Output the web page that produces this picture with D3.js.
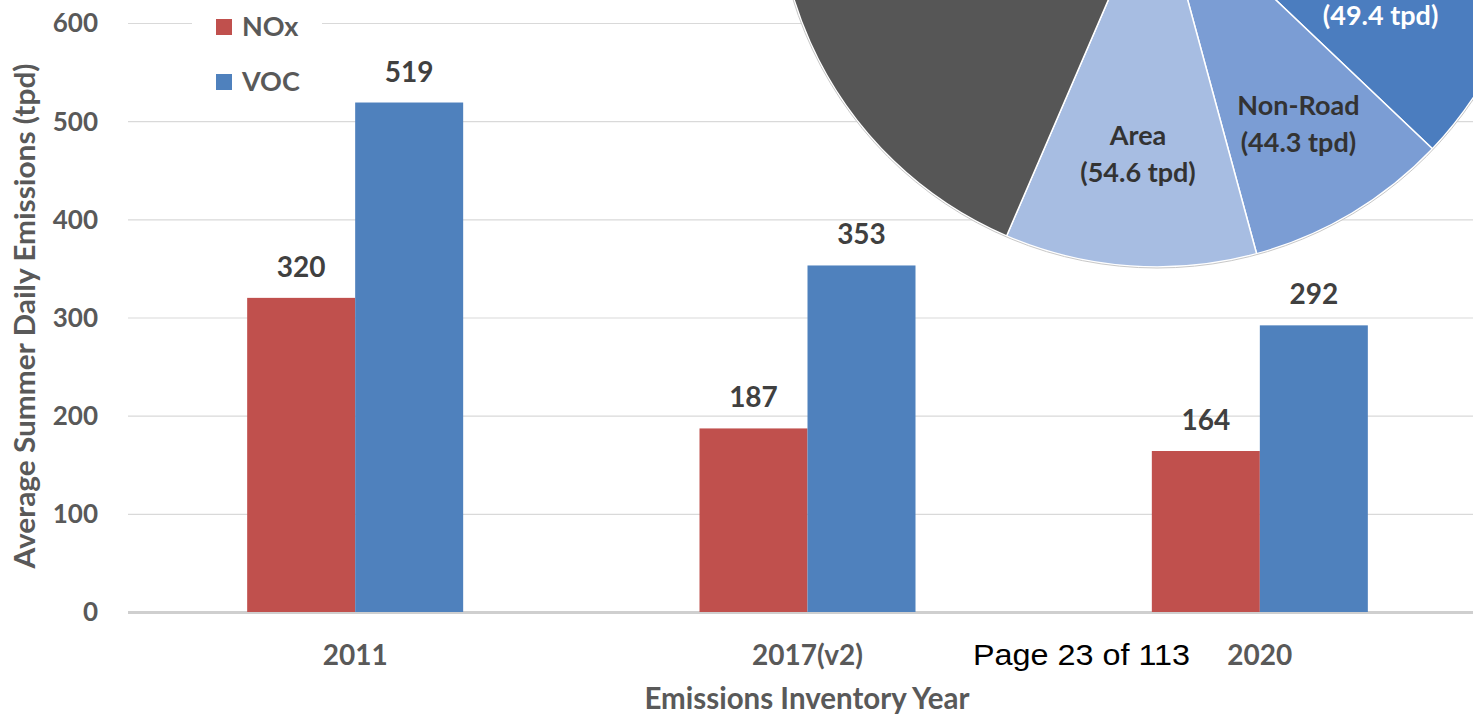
<!DOCTYPE html>
<html>
<head>
<meta charset="utf-8">
<script src="https://cdn.jsdelivr.net/npm/d3@7"></script>
<style>
  html, body { margin: 0; padding: 0; background: #fff; overflow: hidden; }
  svg { display: block; }
  text { font-family: Lato, "Open Sans", sans-serif; font-weight: bold; }
</style>
</head>
<body>
<script>
// bar chart data
var years = ["2011", "2017(v2)", "2020"];
var pollutants = ["NOx", "VOC"];
var noxValues = [320, 187, 164];
var vocValues = [519, 353, 292];
var yTicks = [0, 100, 200, 300, 400, 500, 600];

// inset pie data (only the lower part shows on the page)
var pieNames = ["", "Non-Road", "Area", ""];
var pieValues = [49.4, 44.3, 54.6, 362];
var pieColors = ["#4b7dbf", "#7b9dd4", "#a7bde2", "#565656"];

const width = 1473, height = 714;
const barColors = {"NOx": "#c0504d", "VOC": "#4f81bd"};

var svg = d3.select("body")
    .append("svg")
    .attr("width", width)
    .attr("height", height);

var y = d3.scaleLinear()
    .domain([0, 600])
    .range([612, 23]);

var x = d3.scaleBand()
    .domain(years)
    .range([129, 1486]);

var xSub = d3.scaleBand()
    .domain(pollutants)
    .range([x.bandwidth() / 2 - 108, x.bandwidth() / 2 + 108]);

//gridlines
svg.append("g")
    .selectAll("line")
    .data(yTicks)
    .enter()
    .append("line")
    .attr("x1", 128)
    .attr("x2", width)
    .attr("y1", function (d) { return y(d) + 0.5; })
    .attr("y2", function (d) { return y(d) + 0.5; })
    .style("stroke", function (d) { return d == 0 ? "#cfcfcf" : "#d9d9d9"; })
    .style("stroke-width", function (d) { return d == 0 ? 3 : 1.2; });

//tick labels
svg.append("g")
    .selectAll("text")
    .data(yTicks)
    .enter()
    .append("text")
    .attr("x", 98)
    .attr("y", function (d) { return y(d); })
    .attr("dy", "0.36em")
    .attr("text-anchor", "end")
    .style("font-size", "26px")
    .style("fill", "#595959")
    .text(function (d) { return d; });

//bars
var rows = years.map(function (yr, i) {
    return {year: yr, values: [
        {key: "NOx", value: noxValues[i]},
        {key: "VOC", value: vocValues[i]}
    ]};
});

var groups = svg.append("g")
    .selectAll("g")
    .data(rows)
    .enter()
    .append("g")
    .attr("transform", function (d) { return "translate(" + x(d.year) + ",0)"; });

groups.selectAll("rect")
    .data(function (d) { return d.values; })
    .enter()
    .append("rect")
    .attr("x", function (d) { return xSub(d.key); })
    .attr("y", function (d) { return y(d.value); })
    .attr("width", xSub.bandwidth())
    .attr("height", function (d) { return y(0) - y(d.value); })
    .style("fill", function (d) { return barColors[d.key]; });

groups.selectAll(".val")
    .data(function (d) { return d.values; })
    .enter()
    .append("text")
    .attr("class", "val")
    .attr("x", function (d) { return xSub(d.key) + xSub.bandwidth() / 2; })
    .attr("y", function (d) { return y(d.value) - 21; })
    .attr("text-anchor", "middle")
    .style("font-size", "28px")
    .style("fill", "#404040")
    .text(function (d) { return d.value; });

//x labels
svg.append("g")
    .selectAll("text")
    .data(years)
    .enter()
    .append("text")
    .attr("x", function (d) { return x(d) + x.bandwidth() / 2; })
    .attr("y", 665)
    .attr("text-anchor", "middle")
    .style("font-size", "28px")
    .style("fill", "#595959")
    .text(function (d) { return d; });

//axis titles
svg.append("text")
    .attr("x", 807)
    .attr("y", 709)
    .attr("text-anchor", "middle")
    .style("font-size", "29.5px")
    .style("fill", "#595959")
    .text("Emissions Inventory Year");

svg.append("text")
    .attr("transform", "translate(35,316) rotate(-90)")
    .attr("text-anchor", "middle")
    .attr("textLength", 505)
    .attr("lengthAdjust", "spacingAndGlyphs")
    .style("font-size", "28px")
    .style("fill", "#595959")
    .text("Average Summer Daily Emissions (tpd)");

//legend (white box hides the gridline)
var legend = svg.append("g");
legend.append("rect")
    .attr("x", 192)
    .attr("y", 0)
    .attr("width", 130)
    .attr("height", 100)
    .style("fill", "#fff");

var legendItems = legend.selectAll(".leg")
    .data(pollutants)
    .enter()
    .append("g")
    .attr("class", "leg")
    .attr("transform", function (d, i) { return "translate(216," + (19 + i * 55) + ")"; });

legendItems.append("rect")
    .attr("width", 16)
    .attr("height", 16)
    .style("fill", function (d) { return barColors[d]; });

legendItems.append("text")
    .attr("x", 26)
    .attr("y", 17)
    .style("font-size", "27px")
    .style("fill", "#595959")
    .text(function (d) { return d; });

//pie inset
var pieCx = 1157, pieCy = -113, pieR = 380;
var a0 = 98.7 * Math.PI / 180;
var labelRadius = [249, 276, 268];

var pie = d3.pie()
    .sort(null)
    .startAngle(a0)
    .endAngle(a0 + 2 * Math.PI);

var arc = d3.arc().innerRadius(0).outerRadius(pieR);

var pieG = svg.append("g")
    .attr("transform", "translate(" + pieCx + "," + pieCy + ")");

var slices = pie(pieValues);

pieG.selectAll("path")
    .data(slices)
    .enter()
    .append("path")
    .attr("d", arc)
    .style("fill", function (d, i) { return pieColors[i]; })
    .style("stroke", "#fff")
    .style("stroke-width", 1.5);

pieG.append("circle")
    .attr("r", pieR + 1)
    .style("fill", "none")
    .style("stroke", "#c8c8c8")
    .style("stroke-width", 1);

var sliceLabels = pieG.selectAll(".plabel")
    .data(slices.slice(0, 3))
    .enter()
    .append("text")
    .attr("class", "plabel")
    .attr("transform", function (d, i) {
        var r = labelRadius[i];
        return "translate(" + d3.arc().innerRadius(r).outerRadius(r).centroid(d) + ")";
    })
    .attr("text-anchor", "middle")
    .style("font-size", "27px")
    .style("fill", function (d, i) { return i == 0 ? "#fff" : "#333"; });

sliceLabels.append("tspan")
    .attr("x", 0)
    .attr("y", -9)
    .text(function (d, i) { return pieNames[i]; });

sliceLabels.append("tspan")
    .attr("x", 0)
    .attr("y", 28)
    .text(function (d) { return "(" + d.value + " tpd)"; });

//page footer from the source document
svg.append("text")
    .attr("x", 973)
    .attr("y", 665)
    .attr("textLength", 217)
    .attr("lengthAdjust", "spacingAndGlyphs")
    .style("font-family", "'Liberation Sans', Arial, sans-serif")
    .style("font-weight", "normal")
    .style("font-size", "29px")
    .style("fill", "#000")
    .text("Page 23 of 113");
</script>
</body>
</html>
